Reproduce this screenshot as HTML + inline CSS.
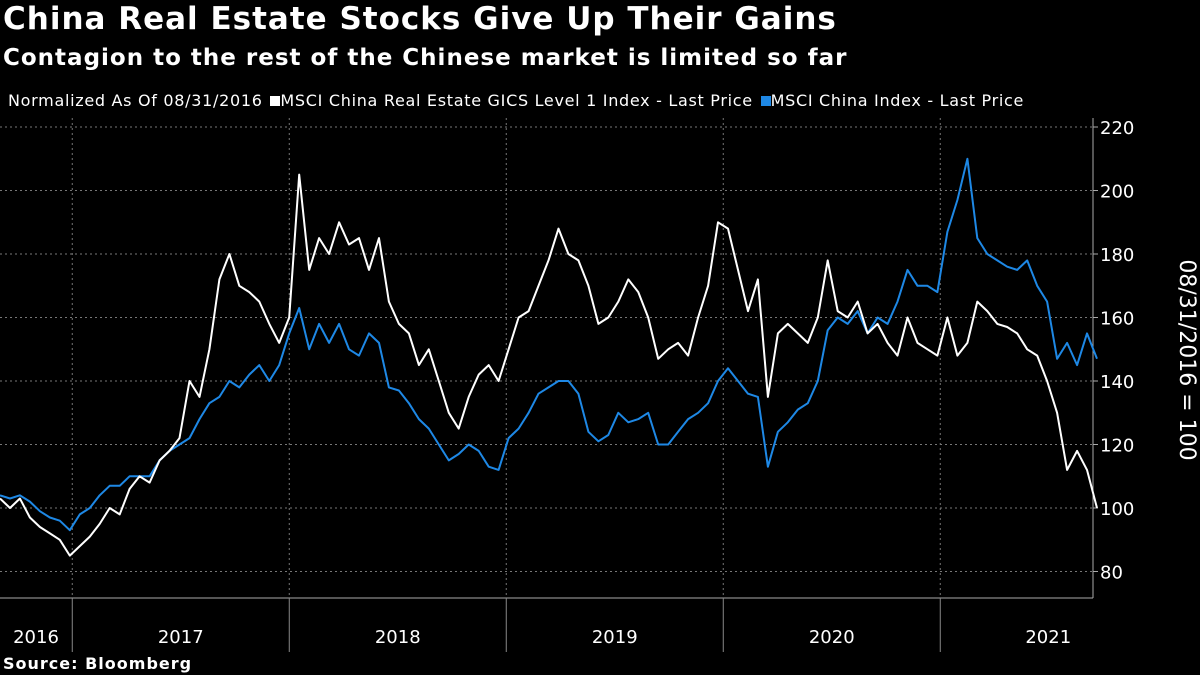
<!DOCTYPE html>
<html><head><meta charset="utf-8"><style>
html,body{margin:0;padding:0;background:#000;}
body{width:1200px;height:675px;overflow:hidden;font-family:"DejaVu Sans","Liberation Sans",sans-serif;color:#fff;position:relative;}
.t{position:absolute;white-space:nowrap;}
</style></head><body>
<div class="t" style="left:3px;top:1px;font-size:31px;font-weight:bold;letter-spacing:1px;">China Real Estate Stocks Give Up Their Gains</div>
<div class="t" style="left:3px;top:45px;font-size:23px;font-weight:bold;letter-spacing:1px;">Contagion to the rest of the Chinese market is limited so far</div>
<div class="t" style="left:8px;top:91px;font-size:16px;letter-spacing:0.7px;">
<span>Normalized As Of 08/31/2016</span>
<span style="margin-left:2px;"><span style="display:inline-block;width:10px;height:10px;background:#fff;"></span>MSCI China Real Estate GICS Level 1 Index - Last Price</span>
<span style="margin-left:2px;"><span style="display:inline-block;width:10px;height:10px;background:#1e88e5;"></span>MSCI China Index - Last Price</span>
</div>
<svg id="chart" width="1200" height="675" style="position:absolute;left:0;top:0;"></svg>
<div class="t" style="left:3px;top:654px;font-size:16px;font-weight:bold;letter-spacing:1px;">Source: Bloomberg</div>
<script>
const realEstate=[103,100,103,97,94,92,90,85,88,91,95,100,98,106,110,108,115,118,122,140,135,150,172,180,170,168,165,158,152,160,205,175,185,180,190,183,185,175,185,165,158,155,145,150,140,130,125,135,142,145,140,150,160,162,170,178,188,180,178,170,158,160,165,172,168,160,147,150,152,148,160,170,190,188,175,162,172,135,155,158,155,152,160,178,162,160,165,155,158,152,148,160,152,150,148,160,148,152,165,162,158,157,155,150,148,140,130,112,118,112,100];
const msciChina=[104,103,104,102,99,97,96,93,98,100,104,107,107,110,110,110,115,118,120,122,128,133,135,140,138,142,145,140,145,155,163,150,158,152,158,150,148,155,152,138,137,133,128,125,120,115,117,120,118,113,112,122,125,130,136,138,140,140,136,124,121,123,130,127,128,130,120,120,124,128,130,133,140,144,140,136,135,113,124,127,131,133,140,156,160,158,162,155,160,158,165,175,170,170,168,187,197,210,185,180,178,176,175,178,170,165,147,152,145,155,147];
const yTicks=[80,100,120,140,160,180,200,220];
const years=["2016","2017","2018","2019","2020","2021"];
const yearStarts=[2016.667,2017,2018,2019,2020,2021];
const NS="http://www.w3.org/2000/svg";
const svg=document.getElementById('chart');
const X0=0,XEND=1097,PR=1093;
const FF='DejaVu Sans, Liberation Sans, sans-serif';
const yS=v=>508-(v-100)*3.175;
const tS=t=>(t-2016.667)*217;
const iS=(i,n)=>X0+i*(XEND-X0)/(n-1);
function mk(tag,attrs){const e=document.createElementNS(NS,tag);for(const k in attrs)e.setAttribute(k,attrs[k]);svg.appendChild(e);return e;}
yTicks.forEach(v=>{
 const g=mk('line',{x1:0,x2:PR,y1:yS(v),y2:yS(v),stroke:'#777','stroke-dasharray':'2,3','stroke-width':1});
 
 
 const tk=mk('line',{x1:PR,x2:PR+5,y1:yS(v),y2:yS(v),stroke:'#aaa'});
 
 
 const t=mk('text',{x:PR+7,y:yS(v)+7,fill:'#fff','font-size':18,'font-family':FF});
 t.textContent=v;
 
 
});
mk('line',{x1:PR,x2:PR,y1:118,y2:598,stroke:'#aaa'});
mk('line',{x1:0,x2:PR,y1:598,y2:598,stroke:'#aaa'});
yearStarts.forEach((ys,i)=>{
 const x=tS(ys);
 if(i>0){
  const g=mk('line',{x1:x,x2:x,y1:118,y2:598,stroke:'#777','stroke-dasharray':'2,3'});
  
  
  const s=mk('line',{x1:x,x2:x,y1:598,y2:652,stroke:'#888'});
  
  
 }
 const next=i<yearStarts.length-1?tS(yearStarts[i+1]):XEND;
 const cx=i===0?36:(x+next)/2;
 const t=mk('text',{x:i===0?cx:(i===years.length-1?x+108:cx),y:643,fill:'#fff','font-size':18,'text-anchor':'middle','font-family':FF});
 t.textContent=years[i];
 
 
});
function line(arr,color,name){
 const d=arr.map((v,i)=>(i?'L':'M')+iS(i,arr.length).toFixed(1)+','+yS(v).toFixed(1)).join('');
 const p=mk('path',{d:d,fill:'none',stroke:color,'stroke-width':2,'stroke-linejoin':'round'});
 
 
}
line(msciChina,'#1e88e5','msci-china-line');
line(realEstate,'#ffffff','real-estate-line');
const yl=mk('text',{x:1180,y:360,fill:'#fff','font-size':22,'text-anchor':'middle',transform:'rotate(90 1180 360)','font-family':FF});
yl.textContent='08/31/2016 = 100';


</script>
</body></html>
